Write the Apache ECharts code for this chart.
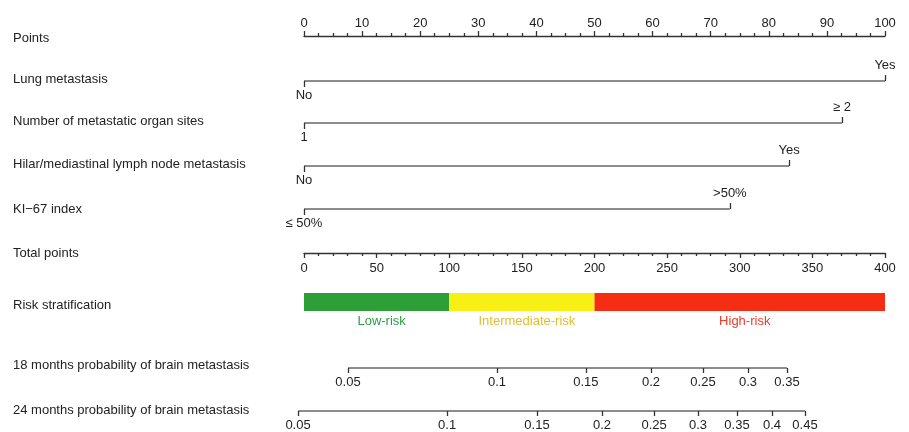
<!DOCTYPE html>
<html>
<head>
<meta charset="utf-8">
<script src="https://cdn.jsdelivr.net/npm/echarts@6/dist/echarts.min.js"></script>
<style>html,body{margin:0;padding:0;background:#fff}#c{width:909px;height:432px}</style>
</head>
<body>
<div id="c"></div>
<script>
// ---- data ----
const rowLabels = ['Points', 'Lung metastasis', 'Number of metastatic organ sites',
  'Hilar/mediastinal lymph node metastasis', 'KI\u221267 index', 'Total points',
  'Risk stratification', '18 months probability of brain metastasis',
  '24 months probability of brain metastasis'];
const variableNames = ['Lung metastasis', 'Number of metastatic organ sites',
  'Hilar/mediastinal lymph node metastasis', 'KI\u221267 index'];
const levelLow = ['No', '1', 'No', '\u2264 50%'];
const levelHigh = ['Yes', '\u2265 2', 'Yes', '>50%'];
const levelPoints = [100, 92.6, 83.5, 73.3];
const riskNames = ['Low-risk', 'Intermediate-risk', 'High-risk'];
const riskBounds = [0, 100, 200, 400];
const prob18Labels = ['0.05', '0.1', '0.15', '0.2', '0.25', '0.3', '0.35'];
const prob18Points = [30.3, 132.9, 194.1, 238.9, 274.7, 305.7, 332.5];
const prob24Labels = ['0.05', '0.1', '0.15', '0.2', '0.25', '0.3', '0.35', '0.4', '0.45'];
const prob24Points = [-4.1, 98.5, 160.4, 205.2, 241.0, 271.3, 298.1, 322.2, 344.9];

// ---- layout / style ----
const FONT = "'Liberation Sans', Arial, Helvetica, sans-serif";
const TXT = '#222';
const LINE = '#333';
const LW = 1.3;
const PL = 304, PW = 581, CW = 909;
const rowY = [36, 81, 123, 166, 209, 253, 293, 368, 411];
const labelY = [38, 79, 121, 164, 209, 253, 305, 365, 410];
const riskColors = ['#2e9e36', '#f8f014', '#f52d12'];
const riskTextColors = ['#2f9a45', '#e2bd2a', '#f03a2a'];
const EXT_MIN = -20;
const extLeft = PL + EXT_MIN * PW / 400;
const extWidth = PW * (400 - EXT_MIN) / 400;

const grids = [], xAxes = [], yAxes = [], series = [];
const lbl = (extra) => Object.assign({fontSize: 13, fontFamily: FONT, color: TXT, hideOverlap: false,
  showMinLabel: true, showMaxLabel: true}, extra);
const tick = (extra) => Object.assign({show: true, length: 5, lineStyle: {color: LINE, width: LW}}, extra);
function addGrid(top, height, left, width) {
  grids.push({left: left, width: width, top: top, height: height, containLabel: false, outerBoundsMode: 'none'});
  const gi = grids.length - 1;
  yAxes.push({gridIndex: gi, type: 'value', min: -1, max: 1, show: false});
  return gi;
}
function nearestLabel(v, pts, labs) {
  let best = 0;
  pts.forEach((p, i) => { if (Math.abs(p - v) < Math.abs(pts[best] - v)) best = i; });
  return labs[best];
}

// Points axis
let g = addGrid(rowY[0], 0, PL, PW);
xAxes.push({gridIndex: g, type: 'value', position: 'top', min: 0, max: 100, interval: 10,
  axisLine: {show: true, lineStyle: {color: LINE, width: LW}},
  axisTick: tick({length: 5}), minorTick: {show: true, splitNumber: 4, length: 3, lineStyle: {color: LINE, width: LW}},
  splitLine: {show: false}, minorSplitLine: {show: false}, axisLabel: lbl({margin: 6})});

// Variable rows
variableNames.forEach((name, i) => {
  const gi = addGrid(rowY[i + 1], 0, PL, PW);
  xAxes.push({gridIndex: gi, type: 'value', position: 'bottom', min: 0, max: 100,
    axisLine: {show: false}, splitLine: {show: false},
    axisTick: tick({length: 6, customValues: [0]}),
    axisLabel: lbl({margin: 8, customValues: [0], formatter: () => levelLow[i]})});
  const topIdx = xAxes.length;
  xAxes.push({gridIndex: gi, type: 'value', position: 'top', min: 0, max: 100,
    axisLine: {show: false}, splitLine: {show: false},
    axisTick: tick({length: 6, customValues: [levelPoints[i]]}),
    axisLabel: lbl({margin: 9, customValues: [levelPoints[i]], formatter: () => levelHigh[i]})});
  series.push({type: 'line', name: name, xAxisIndex: topIdx, yAxisIndex: gi, silent: true,
    symbol: 'none', lineStyle: {color: LINE, width: LW}, data: [[0, 0], [levelPoints[i], 0]]});
});

// Total points
g = addGrid(rowY[5], 0, PL, PW);
xAxes.push({gridIndex: g, type: 'value', position: 'bottom', min: 0, max: 400, interval: 50,
  axisLine: {show: true, lineStyle: {color: LINE, width: LW}},
  axisTick: tick({length: 5}), minorTick: {show: true, splitNumber: 5, length: 3, lineStyle: {color: LINE, width: LW}},
  splitLine: {show: false}, minorSplitLine: {show: false}, axisLabel: lbl({margin: 9})});

// Risk stratification bar
grids.push({left: PL, width: PW, top: rowY[6], height: 18, containLabel: false, outerBoundsMode: 'none'});
const rg = grids.length - 1;
yAxes.push({gridIndex: rg, type: 'category', data: ['risk'], show: false});
const riskX = xAxes.length;
xAxes.push({gridIndex: rg, type: 'value', min: 0, max: 400, show: false});
riskNames.forEach((nm, i) => {
  series.push({type: 'bar', name: nm, stack: 'risk', xAxisIndex: riskX, yAxisIndex: rg, silent: true,
    barWidth: 18, itemStyle: {color: riskColors[i]},
    label: {show: true, position: 'bottom', distance: 4, offset: [5, 0], formatter: nm,
      fontSize: 13, fontFamily: FONT, color: riskTextColors[i]},
    data: [riskBounds[i + 1] - riskBounds[i]]});
});

// Probability axes
[[prob18Points, prob18Labels, rowY[7]], [prob24Points, prob24Labels, rowY[8]]].forEach(([pts, labs, y]) => {
  const gi = addGrid(y, 0, extLeft, extWidth);
  const xi = xAxes.length;
  xAxes.push({gridIndex: gi, type: 'value', position: 'bottom', min: EXT_MIN, max: 400,
    axisLine: {show: false}, splitLine: {show: false},
    axisTick: tick({length: 5, customValues: pts}),
    axisLabel: lbl({margin: 8, customValues: pts, formatter: (v) => nearestLabel(v, pts, labs)})});
  series.push({type: 'line', xAxisIndex: xi, yAxisIndex: gi, silent: true, symbol: 'none',
    lineStyle: {color: LINE, width: LW}, data: [[pts[0], 0], [pts[pts.length - 1], 0]]});
});

const graphics = rowLabels.map((t, i) => ({type: 'text', x: 13, y: labelY[i], silent: true,
  style: {text: t, fill: TXT, fontSize: 13, fontFamily: FONT, verticalAlign: 'middle', textVerticalAlign: 'middle'}}));

const chart = echarts.init(document.getElementById('c'), null, {renderer: 'canvas'});
chart.setOption({
  animation: false,
  backgroundColor: '#fff',
  grid: grids, xAxis: xAxes, yAxis: yAxes, series: series,
  graphic: graphics
});
</script>
</body>
</html>
